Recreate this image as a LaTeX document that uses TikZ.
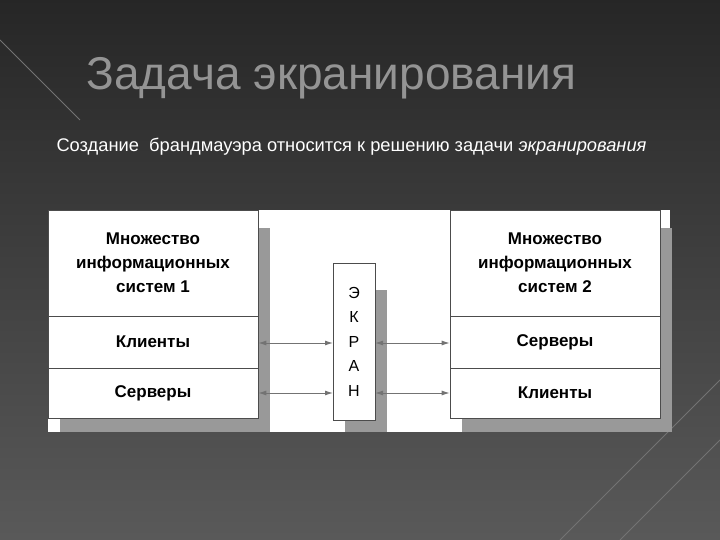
\documentclass[tikz,border=0pt]{standalone}
\usepackage{fontspec}
\setmainfont{Liberation Sans}
\usetikzlibrary{arrows.meta}
\begin{document}
\begin{tikzpicture}[x=1pt,y=-1pt,
  cell/.style={draw=black!70,line width=0.6pt,fill=white,minimum width=210pt,align=center,font=\bfseries\fontsize{17}{24}\selectfont,inner sep=0pt},
  shadow/.style={fill=black!40,draw=none},
  link/.style={draw=black!55,line width=1pt,{Latex[length=8pt,width=5pt]}-{Latex[length=8pt,width=5pt]}}]
\shade[top color=black!85,bottom color=black!65] (0,0) rectangle (720,540);
\useasboundingbox (0,0) rectangle (720,540);
\draw[black!55,line width=0.8pt] (0,40) -- (80,120) (560,540) -- (720,380) (620,540) -- (720,440);
\node[anchor=west,text=black!42,font=\fontsize{46}{48}\selectfont] (title) at (83,78) {Задача экранирования};
\node[anchor=west,text=white,font=\fontsize{18.3}{20}\selectfont] (sub) at (53,147) {Создание \ брандмауэра относится к решению задачи \textit{экранирования}};
\fill[white] (48,210) rectangle (670,432);
\fill[shadow] (60,228) rectangle (270,432);
\fill[shadow] (462,228) rectangle (672,432);
\fill[shadow] (345,290) rectangle (387,432);
\node[cell,minimum height=106pt] (l1) at (153,263) {Множество\\информационных\\систем 1};
\node[cell,minimum height=52pt] (l2) at (153,342) {Клиенты};
\node[cell,minimum height=50pt] (l3) at (153,393) {Серверы};
\node[cell,minimum height=106pt] (r1) at (555,263) {Множество\\информационных\\систем 2};
\node[cell,minimum height=52pt] (r2) at (555,342) {Серверы};
\node[cell,minimum height=50pt] (r3) at (555,393) {Клиенты};
\node[draw=black!70,line width=0.6pt,fill=white,minimum width=42pt,minimum height=157pt,align=center,inner sep=0pt,font=\fontsize{16}{24.5}\selectfont] (scr) at (354,341.5) {Э\\К\\Р\\А\\Н};
\coordinate (sl1) at (333,343); \coordinate (sl2) at (333,393);
\coordinate (sr1) at (375,343); \coordinate (sr2) at (375,393);
\draw[link] (l2.east |- sl1) -- (sl1);
\draw[link] (l2.east |- sl2) -- (sl2);
\draw[link] (sr1) -- (r2.west |- sr1);
\draw[link] (sr2) -- (r2.west |- sr2);
\end{tikzpicture}
\end{document}
